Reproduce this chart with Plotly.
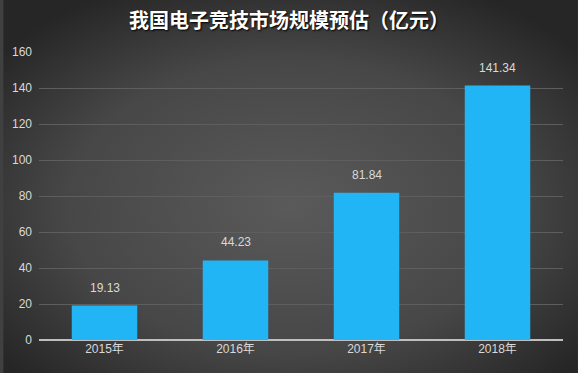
import plotly.graph_objects as go
import base64

categories = ["2015年", "2016年", "2017年", "2018年"]
values = [19.13, 44.23, 81.84, 141.34]
value_labels = ["19.13", "44.23", "81.84", "141.34"]
y_ticks = [0, 20, 40, 60, 80, 100, 120, 140, 160]

svg = (
    '<svg xmlns="http://www.w3.org/2000/svg" width="578" height="373" viewBox="0 0 578 373" preserveAspectRatio="none">'
    '<defs><radialGradient id="g" cx="50%" cy="55%" r="65%">'
    '<stop offset="0%" stop-color="#5a5a5a"/>'
    '<stop offset="60%" stop-color="#474747"/>'
    '<stop offset="100%" stop-color="#262626"/>'
    '</radialGradient></defs>'
    '<rect width="578" height="373" fill="url(#g)"/></svg>'
)
bg_src = "data:image/svg+xml;base64," + base64.b64encode(svg.encode()).decode()

fig = go.Figure()
fig.add_trace(go.Bar(
    x=categories, y=values,
    marker=dict(color="#22b5f5", line=dict(width=0)),
    hoverinfo="x+y",
))

for c, v, t in zip(categories, values, value_labels):
    fig.add_annotation(x=c, y=v, text=t, showarrow=False, yanchor="bottom", yshift=9,
                       font=dict(color="#d9d9d9", size=12, family="Liberation Sans, Arial"))

fig.update_layout(
    width=578, height=373,
    margin=dict(l=36, r=15, t=52, b=33),
    paper_bgcolor="#404040",
    plot_bgcolor="rgba(0,0,0,0)",
    bargap=0.5,
    showlegend=False,
    title=dict(
        text="<b>我国电子竞技市场规模预估（亿元）</b>",
        x=0.5, xanchor="center", y=0.945, yanchor="middle",
        font=dict(family="Noto Sans CJK SC", size=20, color="#ffffff",
                  shadow="1px 1px 2px #000000"),
    ),
    images=[dict(source=bg_src, xref="paper", yref="paper",
                 x=-36/527, y=1 + 52/288, sizex=578/527, sizey=373/288,
                 xanchor="left", yanchor="top", sizing="stretch", layer="below")],
    font=dict(family="Liberation Sans, Arial", color="#d9d9d9", size=12),
)

fig.update_xaxes(
    showgrid=False, showline=False, ticks="",
    tickfont=dict(color="#d9d9d9", size=12, family="Liberation Sans, Noto Sans CJK SC"),
)
fig.update_yaxes(
    range=[0, 160], tickvals=y_ticks, showgrid=True, gridcolor="#5e5e5e", gridwidth=1,
    zeroline=True, zerolinecolor="#bfbfbf", zerolinewidth=1.5,
    showline=False, ticks="", ticklabelstandoff=6,
    tickfont=dict(color="#d9d9d9", size=12, family="Liberation Sans, Arial"),
)

fig.write_html("out.html", config={"displayModeBar": False},
               post_script="document.body.style.margin='0';document.body.style.background='#262626';")
